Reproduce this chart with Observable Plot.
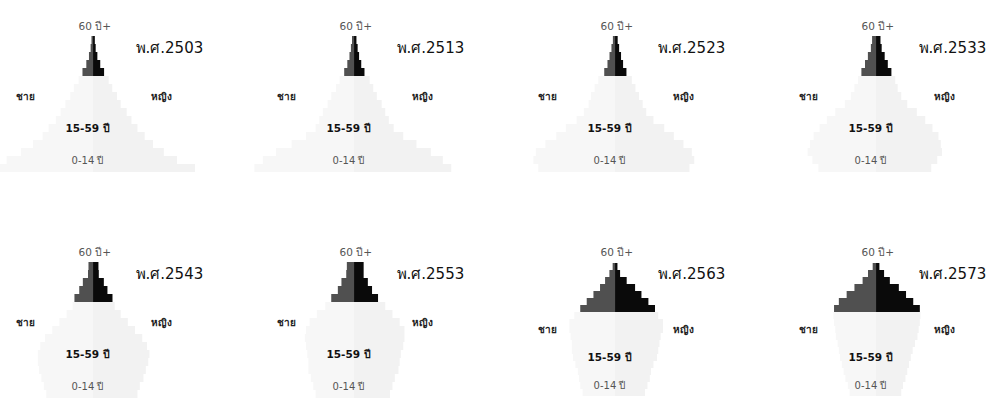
<!DOCTYPE html>
<html><head><meta charset="utf-8">
<script src="https://cdn.jsdelivr.net/npm/d3@7"></script>
<script src="https://cdn.jsdelivr.net/npm/@observablehq/plot@0.6"></script>
<style>
html,body{margin:0;padding:0;background:#fff;overflow:hidden;width:1002px;height:410px}
#grid{position:absolute;left:-29px;top:0;display:grid;grid-template-columns:repeat(4,261px);grid-auto-rows:226px;width:1044px}
#grid svg{display:block;overflow:visible}
</style></head><body><div id="grid"></div>
<script>
// Panel titles (Buddhist Era years)
const years = ["พ.ศ.2503","พ.ศ.2513","พ.ศ.2523","พ.ศ.2533","พ.ศ.2543","พ.ศ.2553","พ.ศ.2563","พ.ศ.2573"];
// Age groups, youngest to oldest
const agesShort = ["0-4","5-9","10-14","15-19","20-24","25-29","30-34","35-39","40-44","45-49","50-54","55-59","60-64","65-69","70-74","75-79","80+"];
const agesLong  = ["0-4","5-9","10-14","15-19","20-24","25-29","30-34","35-39","40-44","45-49","50-54","55-59","60-64","65-69","70-74","75-79","80-84","85-89","90+"];
const oldAges = ["60-64","65-69","70-74","75-79","80+","80-84","85-89","90+"];

// Share of total population (%) by sex and age group
const male2503   = [8.7,7.2,6.0,5.0,4.2,3.7,3.1,2.7,2.3,1.9,1.6,1.2,0.88,0.56,0.34,0.2,0.13];
const female2503 = [8.5,7.0,5.9,5.0,4.3,3.7,3.2,2.8,2.3,2.0,1.6,1.3,0.92,0.6,0.36,0.22,0.15];
const male2513   = [8.3,7.6,6.5,5.2,4.0,3.2,2.9,2.6,2.2,1.9,1.5,1.2,0.82,0.56,0.38,0.26,0.17];
const female2513 = [8.1,7.4,6.4,5.2,4.1,3.3,2.9,2.6,2.3,1.9,1.6,1.3,0.87,0.6,0.42,0.3,0.2];
const male2523   = [6.4,6.8,6.6,5.8,4.9,4.1,3.2,2.6,2.2,2.0,1.7,1.4,0.9,0.63,0.46,0.3,0.18];
const female2523 = [6.2,6.6,6.4,5.7,4.9,4.1,3.2,2.6,2.3,2.0,1.7,1.4,0.95,0.67,0.5,0.34,0.22];
const male2533   = [4.8,5.3,5.7,5.5,5.2,4.7,4.1,3.4,2.6,2.1,1.8,1.5,1.22,0.92,0.68,0.43,0.33];
const female2533 = [4.6,5.1,5.5,5.4,5.2,4.7,4.1,3.4,2.6,2.1,1.8,1.6,1.28,0.98,0.72,0.47,0.37];
const male2543   = [3.9,4.1,4.3,4.5,4.6,4.6,4.4,4.0,3.4,2.8,2.2,1.7,1.55,1.15,0.85,0.42,0.38];
const female2543 = [3.7,3.9,4.2,4.4,4.6,4.7,4.5,4.1,3.5,2.9,2.3,1.8,1.62,1.2,0.9,0.48,0.45];
const male2553   = [3.2,3.4,3.6,3.8,3.8,3.9,4.0,4.1,4.0,3.7,3.1,2.4,1.9,1.35,1.05,0.65,0.6];
const female2553 = [3.0,3.2,3.4,3.7,3.8,3.9,4.1,4.2,4.2,3.8,3.2,2.6,2.0,1.5,1.15,0.8,0.8];
const male2563   = [2.7,2.9,3.0,3.1,3.3,3.5,3.6,3.6,3.7,3.8,3.8,3.4,2.9,2.36,1.8,1.25,0.83,0.47,0.2];
const female2563 = [2.5,2.7,2.9,3.0,3.2,3.5,3.6,3.7,3.8,4.0,4.0,3.6,3.33,2.78,2.2,1.67,0.97,0.42,0.2];
const male2573   = [2.2,2.35,2.55,2.7,2.85,3.0,3.1,3.2,3.35,3.4,3.5,3.55,3.5,3.1,2.45,1.8,1.12,0.67,0.28];
const female2573 = [2.1,2.25,2.45,2.6,2.75,2.9,3.05,3.25,3.45,3.55,3.65,3.7,3.65,3.1,2.5,1.9,1.15,0.67,0.28];

// Text labels
const labelOld = "60 ปี+";
const labelMale = "ชาย";
const labelFemale = "หญิง";
const labelMid = "15-59 ปี";
const labelYoung = "0-14 ปี";

const panels = [
  {title: years[0], ages: agesShort, male: male2503, female: female2503},
  {title: years[1], ages: agesShort, male: male2513, female: female2513},
  {title: years[2], ages: agesShort, male: male2523, female: female2523},
  {title: years[3], ages: agesShort, male: male2533, female: female2533},
  {title: years[4], ages: agesShort, male: male2543, female: female2543},
  {title: years[5], ages: agesShort, male: male2553, female: female2553},
  {title: years[6], ages: agesLong,  male: male2563, female: female2563},
  {title: years[7], ages: agesLong,  male: male2573, female: female2573}
];

const font = "Tahoma, 'DejaVu Sans', 'Noto Sans', sans-serif";
const grid = document.getElementById("grid");

for (const p of panels) {
  const rows = [];
  p.ages.forEach((a, i) => {
    const old = oldAges.includes(a);
    rows.push({age: a, value: -p.male[i], group: old ? "m-old" : "m-young"});
    rows.push({age: a, value: p.female[i], group: old ? "f-old" : "f-young"});
  });
  const domain = p.ages.slice().reverse();
  const chart = Plot.plot({
    width: 261,
    height: 226,
    marginLeft: 0, marginRight: 0, marginTop: 33, marginBottom: 52,
    style: {background: "transparent", fontFamily: font, overflow: "visible"},
    x: {domain: [-10.17, 11.58], axis: null},
    y: {domain, axis: null, padding: 0},
    color: {domain: ["m-old","f-old","m-young","f-young"], range: ["#505050","#0a0a0a","#f7f7f7","#f2f2f2"]},
    marks: [
      Plot.barX(rows, {y: "age", x: "value", fill: "group"}),
      Plot.text([labelOld], {x: 0.1, y: [domain[0]], dy: -14, fontSize: 10.5, fill: "#555"}),
      Plot.text([p.title], {x: 3.5, y: [domain[1]], textAnchor: "start", fontSize: 15, fill: "#111"}),
      Plot.text([labelMale], {x: -5.7, y: ["45-49"], fontSize: 10, fontWeight: "bold", fill: "#222"}),
      Plot.text([labelFemale], {x: 5.7, y: ["45-49"], fontSize: 10, fontWeight: "bold", fill: "#222"}),
      Plot.text([labelMid], {x: -0.5, y: ["25-29"], fontSize: 10.5, fontWeight: "bold", fill: "#111"}),
      Plot.text([labelYoung], {x: -0.5, y: ["5-9"], fontSize: 10, fill: "#555"})
    ]
  });
  grid.appendChild(chart);
}
</script></body></html>
